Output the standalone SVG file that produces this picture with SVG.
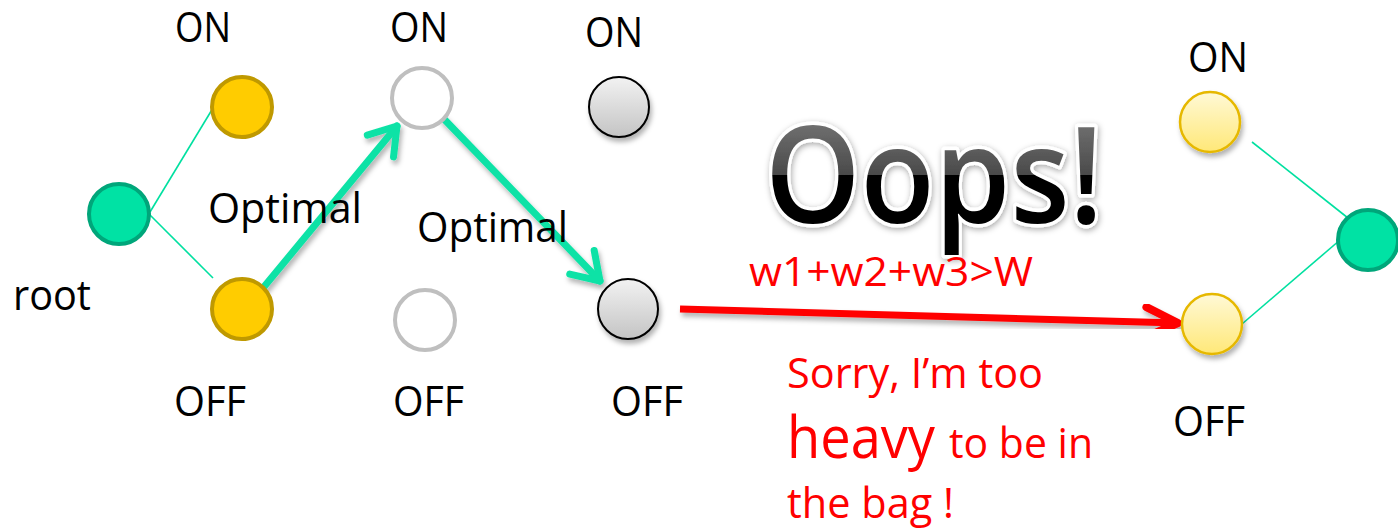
<svg xmlns="http://www.w3.org/2000/svg" width="1398" height="532" viewBox="0 0 1398 532">
  <style>
    .lbl { font-family: "Open Sans", "Liberation Sans", sans-serif; font-size: 42px; fill: #000; }
    .red { font-family: "Open Sans", "Liberation Sans", sans-serif; fill: #FF0000; }
    .thin { stroke: #00E0A0; stroke-width: 1.6; fill: none; }
    .path { stroke: #10E2A6; stroke-width: 7; fill: none; stroke-linecap: round; }
    .rootn { fill: #00E2A4; stroke: #00A67A; stroke-width: 4; }
    .gold { fill: #FFCC00; stroke: #BF9900; stroke-width: 4; }
    .hollow { fill: #FFFFFF; stroke: #BFBFBF; stroke-width: 4; }
    .grey { fill: url(#greyFill); stroke: #000; stroke-width: 2; filter: url(#shadow); }
    .pale { fill: url(#paleFill); stroke: #E6B800; stroke-width: 2.5; filter: url(#shadow); }
  </style>
  <defs>
    <linearGradient id="greyFill" x1="0" y1="0" x2="0" y2="1">
      <stop offset="0" stop-color="#F2F2F2"/>
      <stop offset="1" stop-color="#C4C4C4"/>
    </linearGradient>
    <linearGradient id="paleFill" x1="0" y1="0" x2="0" y2="1">
      <stop offset="0" stop-color="#FFF9D6"/>
      <stop offset="1" stop-color="#FFE878"/>
    </linearGradient>
    <linearGradient id="oopsFill" gradientUnits="userSpaceOnUse" x1="0" y1="125" x2="0" y2="250">
      <stop offset="0" stop-color="#6E6E6E"/>
      <stop offset="0.4" stop-color="#4A4A4A"/>
      <stop offset="0.4" stop-color="#000"/>
      <stop offset="1" stop-color="#000"/>
    </linearGradient>
    <filter id="shadow" x="-30%" y="-30%" width="160%" height="170%">
      <feDropShadow dx="2" dy="4" stdDeviation="2.5" flood-color="#000" flood-opacity="0.3"/>
    </filter>
    <filter id="oopsShadow" x="-10%" y="-20%" width="120%" height="150%">
      <feDropShadow dx="1" dy="2" stdDeviation="3" flood-color="#000" flood-opacity="0.35"/>
    </filter>
    <marker id="greenHead" markerUnits="userSpaceOnUse" viewBox="-40 -25 50 50" markerWidth="50" markerHeight="50" refX="0" refY="0" orient="auto" overflow="visible">
      <path d="M -26 -17 L 0 0 L -26 17" fill="none" stroke="#10E2A6" stroke-width="7" stroke-linecap="round" stroke-linejoin="round"/>
    </marker>
    <marker id="redHead" markerUnits="userSpaceOnUse" viewBox="-40 -25 50 50" markerWidth="50" markerHeight="50" refX="0" refY="0" orient="auto" overflow="visible">
      <path d="M -32 -15 L 0 0 L -32 15" fill="none" stroke="#FF0000" stroke-width="8" stroke-linecap="round" stroke-linejoin="round"/>
    </marker>
  </defs>

  <rect width="1398" height="532" fill="#FFFFFF"/>

  <!-- connectors -->
  <g id="connectors">
    <line class="thin" x1="150" y1="212" x2="213" y2="108"/>
    <line class="thin" x1="150" y1="215" x2="213" y2="278"/>
    <line class="thin" x1="1252" y1="142" x2="1348" y2="218"/>
    <line class="thin" x1="1242" y1="324" x2="1340" y2="240"/>
    <line class="path" x1="263" y1="288" x2="397" y2="126" marker-end="url(#greenHead)" filter="url(#shadow)"/>
    <line class="path" x1="443" y1="118" x2="600" y2="281" marker-end="url(#greenHead)" filter="url(#shadow)"/>
    <line x1="680" y1="309" x2="1178" y2="323" stroke="#FF0000" stroke-width="7" marker-end="url(#redHead)" filter="url(#shadow)"/>
  </g>

  <!-- left root and first item -->
  <g id="root-left"><circle class="rootn" cx="119" cy="214" r="30"/></g>
  <g id="item1-on"><circle class="gold" cx="242" cy="107" r="30"/></g>
  <g id="item1-off"><circle class="gold" cx="242" cy="309" r="30"/></g>

  <!-- second item -->
  <g id="item2-on"><circle class="hollow" cx="422" cy="98" r="30"/></g>
  <g id="item2-off"><circle class="hollow" cx="425" cy="320" r="30"/></g>

  <!-- third item -->
  <g id="item3-on"><circle class="grey" cx="619" cy="107" r="30"/></g>
  <g id="item3-off"><circle class="grey" cx="628" cy="309" r="30"/></g>

  <!-- right subtree -->
  <g id="item4-on"><circle class="pale" cx="1210" cy="122" r="30"/></g>
  <g id="item4-off"><circle class="pale" cx="1212" cy="324" r="30"/></g>
  <g id="root-right"><circle class="rootn" cx="1368" cy="240" r="30"/></g>

  <!-- state labels -->
  <g id="labels">
    <text class="lbl" x="175" y="42" textLength="56" lengthAdjust="spacingAndGlyphs">ON</text>
    <text class="lbl" x="390" y="42" textLength="58" lengthAdjust="spacingAndGlyphs">ON</text>
    <text class="lbl" x="585" y="47" textLength="58" lengthAdjust="spacingAndGlyphs">ON</text>
    <text class="lbl" x="1188" y="72" textLength="60" lengthAdjust="spacingAndGlyphs">ON</text>
    <text class="lbl" x="174" y="416" textLength="72" lengthAdjust="spacingAndGlyphs">OFF</text>
    <text class="lbl" x="393" y="416" textLength="71" lengthAdjust="spacingAndGlyphs">OFF</text>
    <text class="lbl" x="611" y="416" textLength="72" lengthAdjust="spacingAndGlyphs">OFF</text>
    <text class="lbl" x="1173" y="436" textLength="72" lengthAdjust="spacingAndGlyphs">OFF</text>
    <text class="lbl" x="13" y="310" textLength="78" lengthAdjust="spacingAndGlyphs">root</text>
    <text class="lbl" x="208" y="223" textLength="154" lengthAdjust="spacingAndGlyphs">Optimal</text>
    <text class="lbl" x="417" y="242" textLength="151" lengthAdjust="spacingAndGlyphs">Optimal</text>
  </g>

  <!-- exclamation banner -->
  <g id="oops">
    <text x="765" y="223" textLength="338" lengthAdjust="spacingAndGlyphs" font-family="'Open Sans', 'Liberation Sans', sans-serif" font-weight="600" font-size="134" fill="url(#oopsFill)" stroke="#FFFFFF" stroke-width="7" stroke-linejoin="round" paint-order="stroke" filter="url(#oopsShadow)">Oops!</text>
  </g>

  <!-- overweight note -->
  <g id="note">
    <text class="red" x="749" y="286" font-size="40" textLength="284" lengthAdjust="spacingAndGlyphs">w1+w2+w3&gt;W</text>
    <text class="red" x="787" y="388" font-size="42" textLength="256" lengthAdjust="spacingAndGlyphs">Sorry, I’m too</text>
    <text class="red" x="787" y="458" font-size="58" textLength="148" lengthAdjust="spacingAndGlyphs">heavy</text>
    <text class="red" x="949" y="458" font-size="42" textLength="144" lengthAdjust="spacingAndGlyphs">to be in</text>
    <text class="red" x="787" y="518" font-size="42" textLength="167" lengthAdjust="spacingAndGlyphs">the bag !</text>
  </g>
</svg>
